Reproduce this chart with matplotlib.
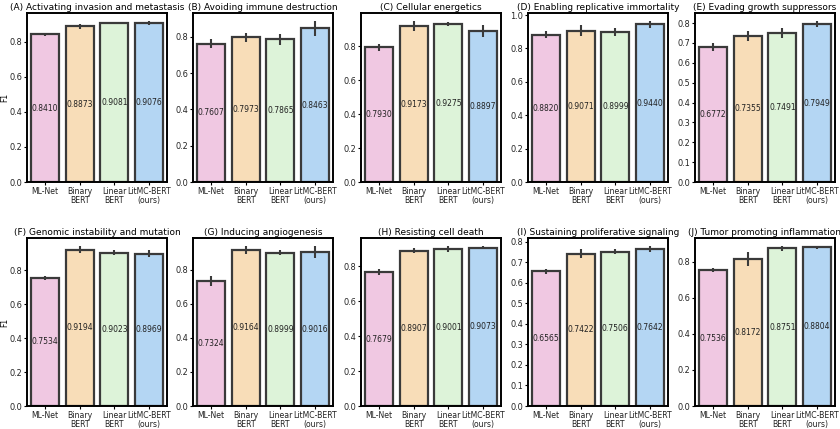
import matplotlib
matplotlib.use('Agg')
import numpy as np
import matplotlib.pyplot as plt

# назви панелей
titles = ['(A) Activating invasion and metastasis', '(B) Avoiding immune destruction',
          '(C) Cellular energetics', '(D) Enabling replicative immortality',
          '(E) Evading growth suppressors', '(F) Genomic instability and mutation',
          '(G) Inducing angiogenesis', '(H) Resisting cell death',
          '(I) Sustaining proliferative signaling', '(J) Tumor promoting inflammation']

models = ['ML-Net', 'Binary\nBERT', 'Linear\nBERT', 'LitMC-BERT\n(ours)']

f1_scores = [
    [0.8410, 0.8873, 0.9081, 0.9076],
    [0.7607, 0.7973, 0.7865, 0.8463],
    [0.7930, 0.9173, 0.9275, 0.8897],
    [0.8820, 0.9071, 0.8999, 0.9440],
    [0.6772, 0.7355, 0.7491, 0.7949],
    [0.7534, 0.9194, 0.9023, 0.8969],
    [0.7324, 0.9164, 0.8999, 0.9016],
    [0.7679, 0.8907, 0.9001, 0.9073],
    [0.6565, 0.7422, 0.7506, 0.7642],
    [0.7536, 0.8172, 0.8751, 0.8804],
]

# півширина похибки (оцінено з картинки)
f1_err = [
    [0.010, 0.015, 0.005, 0.010],
    [0.025, 0.025, 0.030, 0.040],
    [0.020, 0.030, 0.012, 0.035],
    [0.020, 0.035, 0.025, 0.020],
    [0.020, 0.025, 0.025, 0.015],
    [0.010, 0.022, 0.015, 0.020],
    [0.030, 0.022, 0.015, 0.035],
    [0.015, 0.015, 0.015, 0.010],
    [0.012, 0.020, 0.012, 0.015],
    [0.012, 0.040, 0.012, 0.008],
]

colors = ['#f0c8e2', '#f8ddb8', '#ddf3d9', '#b4d6f3']
edge = '#3a3a3a'

fig = plt.figure(figsize=(8.4, 4.29), dpi=100)

lefts = [27, 193, 361, 528, 695]
width_px = 140
rows = [(13, 182), (238, 406)]

for i in range(10):
    r, c = divmod(i, 5)
    top, bottom = rows[r]
    ax = fig.add_axes([lefts[c] / 840, 1 - bottom / 429, width_px / 840, (bottom - top) / 429])
    x = np.arange(len(models))
    vals = f1_scores[i]
    ax.bar(x, vals, width=0.8, color=colors, edgecolor=edge, linewidth=1.6)
    ax.errorbar(x, vals, yerr=f1_err[i], fmt='none', ecolor=edge, elinewidth=1.5, capsize=0)
    for xi, v in zip(x, vals):
        ax.text(xi, v / 2, f'{v:.4f}', ha='center', va='center', fontsize=5.5, color='#222222')
    ax.set_xticks(x)
    ax.set_xticklabels(models, fontsize=5.6, linespacing=0.95, color='#222222')
    ax.tick_params(axis='y', labelsize=5.9, labelcolor='#222222')
    ax.tick_params(length=2, width=0.8, pad=1.5)
    ax.set_title(titles[i], fontsize=6.5, pad=2.5)
    ax.set_xlim(-0.52, 3.52)
    for s in ax.spines.values():
        s.set_linewidth(1.4)
    if c == 0:
        ax.set_ylabel('F1', fontsize=5.5)
        ax.yaxis.set_label_coords(-0.13, 0.5)

fig.savefig('out.png', dpi=100)
